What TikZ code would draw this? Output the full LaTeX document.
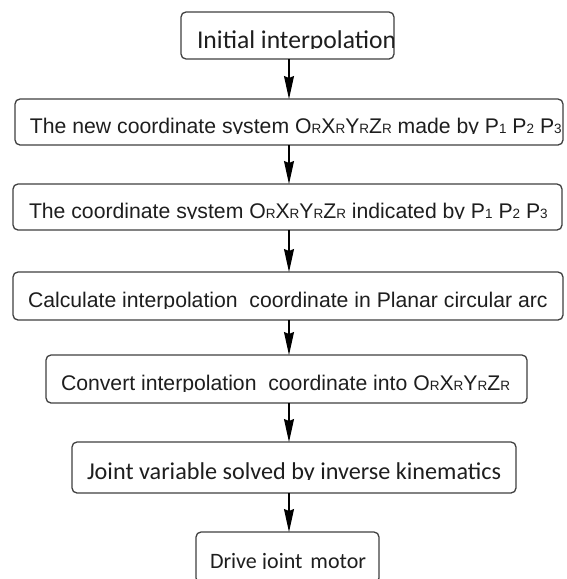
\documentclass[tikz,border=0pt]{standalone}
\usepackage{fontspec}
\setmainfont{Liberation Sans}
\newfontfamily\calfont{Carlito}
\usetikzlibrary{arrows.meta}
\definecolor{txt}{HTML}{1E1E1E}
\definecolor{edge}{HTML}{404040}
\newcommand\subR{\raisebox{-0.6pt}{\fontsize{13.5}{14}\selectfont R}}
\newcommand\subN[1]{\raisebox{-0.6pt}{\fontsize{13.5}{14}\selectfont #1}}
\newcommand\ORXYZ{O\subR X\subR Y\subR Z\subR}
\tikzset{
  flowbox/.style={draw=edge, line width=1.3pt, rounded corners=5pt, inner sep=0pt, outer sep=0pt, fill=none},
  label/.style={anchor=base west, inner sep=0pt, outer sep=0pt, text=txt},
  arialtxt/.style={font=\fontsize{21.2}{25}\selectfont},
  caltxt/.style={font=\calfont\fontsize{24.2}{29}\selectfont},
  flowarrow/.style={line width=1.2pt, draw=black, -{Stealth[length=23pt, width=10pt, inset=2pt]}}
}
\begin{document}
\begin{tikzpicture}[x=1pt,y=-1pt]
\useasboundingbox (0,0) rectangle (566,579);
\fill[white] (0,0) rectangle (566,579);
% boxes
\node[flowbox, minimum width=213pt, minimum height=47pt] (b1) at (287.5,35.5) {};
\node[flowbox, minimum width=548pt, minimum height=46pt] (b2) at (289,122) {};
\node[flowbox, minimum width=549pt, minimum height=46pt] (b3) at (287.5,207) {};
\node[flowbox, minimum width=550pt, minimum height=48pt] (b4) at (288,296) {};
\node[flowbox, minimum width=481pt, minimum height=48pt] (b5) at (286.5,379) {};
\node[flowbox, minimum width=444pt, minimum height=51pt] (b6) at (294,467.5) {};
\node[flowbox, minimum width=183pt, minimum height=51pt] (b7) at (287.5,557.5) {};
% texts, clipped just under the baseline as in the reference
\begin{scope}
  \clip (182,13) rectangle (393,48.8);
  \node[label, font=\calfont\fontsize{25.6}{30}\selectfont] (t1) at (197,48) {Initial interpolation};
\end{scope}
\begin{scope}
  \clip (16,100) rectangle (562,133.8);
  \node[label, arialtxt] (t2) at (30,133) {The new coordinate system \ORXYZ{} made by P\subN{1} P\subN{2} P\subN{3}};
\end{scope}
\begin{scope}
  \clip (14,185) rectangle (561,218.8);
  \node[label, arialtxt] (t3) at (29,218) {The coordinate system \ORXYZ{} indicated by P\subN{1} P\subN{2} P\subN{3}};
\end{scope}
\begin{scope}
  \clip (14,273) rectangle (562,308.3);
  \node[label, arialtxt] (t4) at (28,307.5) {Calculate interpolation\ \ coordinate in Planar circular arc};
\end{scope}
\begin{scope}
  \clip (47,356) rectangle (526,391.5);
  \node[label, arialtxt] (t5) at (61,390) {Convert interpolation\ \ coordinate into \ORXYZ};
\end{scope}
\begin{scope}
  \clip (73,443) rectangle (515,479.8);
  \node[label, caltxt] (t6) at (87,479) {Joint variable solved by inverse kinematics};
\end{scope}
\begin{scope}
  \clip (197,533) rectangle (378,568.6);
  \node[label, font=\calfont\fontsize{22}{26}\selectfont, text=txt] (t7) at (210,568) {Drive joint\hspace{3pt} motor};
\end{scope}
% connectors
\coordinate (ax) at (289,0);
\draw[flowarrow] (b1.south -| ax) -- (b2.north -| ax);
\draw[flowarrow] (b2.south -| ax) -- (b3.north -| ax);
\draw[flowarrow] (b3.south -| ax) -- (b4.north -| ax);
\draw[flowarrow] (b4.south -| ax) -- (b5.north -| ax);
\draw[flowarrow] (b5.south -| ax) -- (b6.north -| ax);
\draw[flowarrow] (b6.south -| ax) -- (b7.north -| ax);
\end{tikzpicture}
\end{document}
